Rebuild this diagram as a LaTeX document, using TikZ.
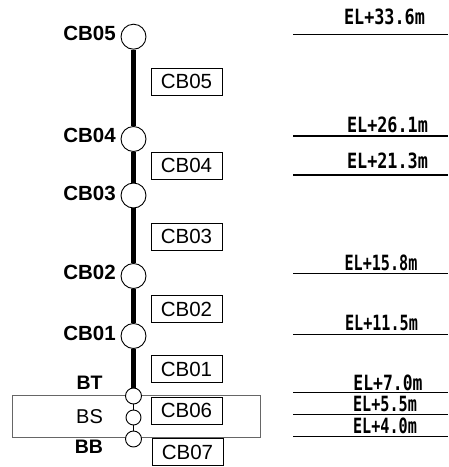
\documentclass[tikz,border=0pt]{standalone}
\usepackage{fontspec}
\usepackage{graphicx}
\setmainfont{Liberation Sans}
\newfontfamily\elfont{DejaVu Sans Mono}
% horizontally condensed elevation text
\newcommand\elv[2]{\scalebox{#1}[1]{#2}}
\begin{document}
\begin{tikzpicture}[x=1pt,y=-1pt,
  joint/.style={circle,draw,fill=white,line width=0.9pt,minimum size=25pt,inner sep=0pt},
  smalljoint/.style={joint,minimum size=16pt},
  tag/.style={font=\fontsize{20.5}{20.5}\selectfont\bfseries,inner sep=0pt},
  member/.style={draw,line width=0.9pt,minimum width=71pt,minimum height=27pt,inner sep=0pt,
    font=\fontsize{20.5}{20.5}\selectfont},
  level/.style={line width=1.3pt},
  eltext/.style={font=\fontsize{21}{21}\elfont\bfseries,anchor=base,inner sep=0pt},
  column/.style={line width=5pt},
  link/.style={line width=0.8pt}
]
\useasboundingbox (0,0) rectangle (449,467);

% base-isolation storey frame
\draw[black!60,line width=0.9pt] (12.7,395.7) rectangle (260,437.3);

% joints along the column
\node[joint] (c5) at (133.5,36.7) {};
\node[joint] (c4) at (133.5,139) {};
\node[joint] (c3) at (133.5,195.5) {};
\node[joint] (c2) at (133.5,276) {};
\node[joint] (c1) at (133.5,336) {};
\node[smalljoint] (bt) at (133.5,396) {};
\node[smalljoint,minimum size=15pt] (bs) at (133.5,417.5) {};
\node[smalljoint] (bb) at (133.5,439) {};

% column segments
\draw[column] (c5) -- (c4);
\draw[column] (c4) -- (c3);
\draw[column] (c3) -- (c2);
\draw[column] (c2) -- (c1);
\draw[column] (c1) -- (bt);
\draw[link] (bt) -- (bs);
\draw[link] (bs) -- (bb);

% joint names
\node[tag,anchor=east] (n5) at (116,33) {CB05};
\node[tag,anchor=east] (n4) at (116,135) {CB04};
\node[tag,anchor=east] (n3) at (116,193) {CB03};
\node[tag,anchor=east] (n2) at (116,272) {CB02};
\node[tag,anchor=east] (n1) at (116,333) {CB01};
\node[tag,font=\fontsize{19.5}{19.5}\selectfont\bfseries] (nbt) at (89.5,383) {BT};
\node[tag,font=\fontsize{20}{20}\selectfont] (nbs) at (89.5,417) {BS};
\node[tag,font=\fontsize{19.5}{19.5}\selectfont\bfseries] (nbb) at (89,447) {BB};

% member labels
\node[member] (m5) at (186.5,81.5) {CB05};
\node[member] (m4) at (186.5,165.5) {CB04};
\node[member] (m3) at (186.5,236.7) {CB03};
\node[member] (m2) at (186.5,309) {CB02};
\node[member] (m1) at (186.5,369) {CB01};
\node[member] (m6) at (186.5,410.7) {CB06};
\node[member] (m7) at (187.5,452) {CB07};

% floor levels
\foreach \i/\y in {a/34.3,b/136,c/175,d/273.3,e/334.3,f/392.7,g/414.3,h/436.7}{
  \coordinate (\i l) at (293,\y);
  \coordinate (\i r) at (448,\y);
  \draw[level] (\i l) -- (\i r);
}
\node[eltext] (ea) at (384.5,24.3) {\elv{0.8}{EL+33.6m}};
\node[eltext] (eb) at (387.5,132.7) {\elv{0.8}{EL+26.1m}};
\node[eltext] (ec) at (387.5,168.3) {\elv{0.8}{EL+21.3m}};
\node[eltext] (ed) at (381,270.5) {\elv{0.72}{EL+15.8m}};
\node[eltext] (ee) at (381.5,330) {\elv{0.72}{EL+11.5m}};
\node[eltext] (ef) at (388,390.5) {\elv{0.78}{EL+7.0m}};
\node[eltext] (eg) at (385,411) {\elv{0.72}{EL+5.5m}};
\node[eltext] (eh) at (385,433) {\elv{0.72}{EL+4.0m}};
\end{tikzpicture}
\end{document}
